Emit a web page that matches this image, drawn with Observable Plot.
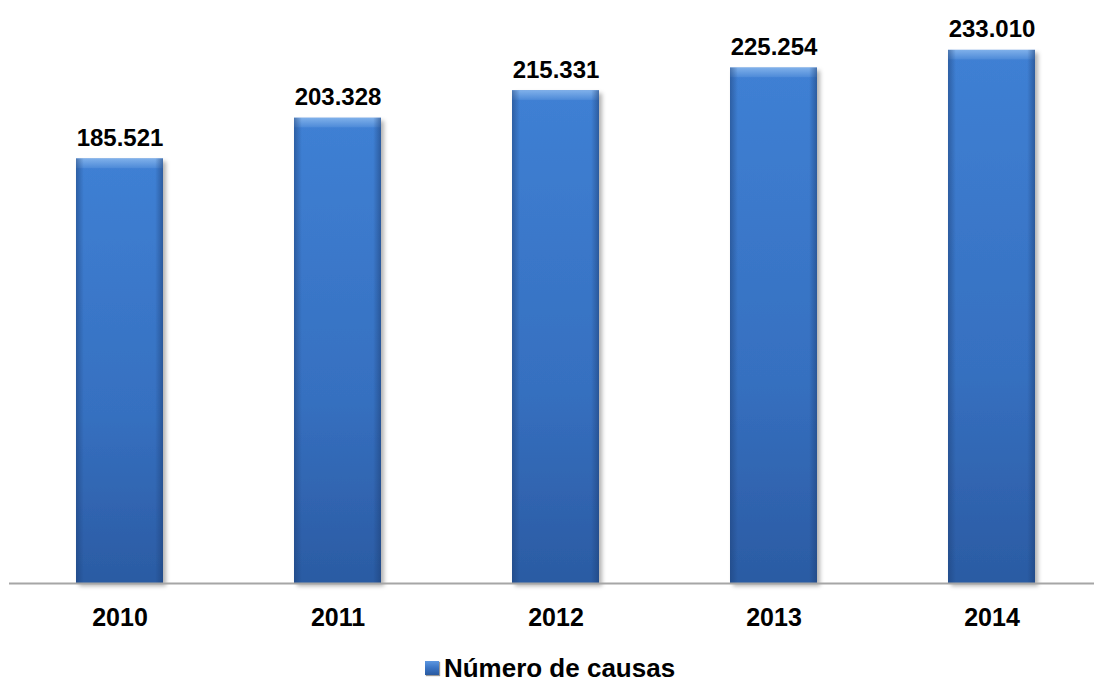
<!DOCTYPE html>
<html>
<head>
<meta charset="utf-8">
<script src="https://cdn.jsdelivr.net/npm/d3@7"></script>
<script src="https://cdn.jsdelivr.net/npm/@observablehq/plot@0.6"></script>
<style>
  html, body { margin: 0; padding: 0; background: #fff; }
  #chart { width: 1094px; }
  .legend { display: flex; align-items: center; justify-content: center; height: 56px;
    font-family: "Liberation Sans", Arial, sans-serif; font-weight: bold; font-size: 26px; color: #000; margin-left: 6px; }
  .legend .sw { width: 14px; height: 14px; margin-right: 5px;
    background: linear-gradient(180deg, #5d97e0 0%, #3a74c4 50%, #2a5aa0 100%); box-shadow: 1px 1px 1px #999; }
</style>
</head>
<body>
<div id="chart"></div>
<script>
const years = ["2010", "2011", "2012", "2013", "2014"];
const causas = [185521, 203328, 215331, 225254, 233010];
const seriesName = "Número de causas";

const data = years.map((y, i) => ({year: y, value: causas[i]}));
const fmt = d3.formatLocale({decimal: ",", thousands: ".", grouping: [3], currency: ["", ""]}).format(",d");

const plot = Plot.plot({
  width: 1094,
  height: 640,
  marginLeft: 9,
  marginRight: 0,
  marginTop: 11,
  marginBottom: 57,
  style: {fontFamily: "'Liberation Sans', Arial, sans-serif", background: "#fff"},
  x: {domain: years, range: [9, 1101.5], paddingInner: 0.6, paddingOuter: 0.3, label: null},
  y: {domain: [0, 250000], axis: null},
  marks: [
    Plot.barY(data, {x: "year", y: "value", fill: "url(#barGrad)"}),
    Plot.barY(data, {x: "year", y1: d => d.value, y2: d => d.value - 4200, fill: "url(#bevelGrad)"}),
    Plot.barY(data, {x: "year", y: "value", fill: "url(#edgeGrad)"}),
    Plot.ruleY([0], {stroke: "#a6a6a6", strokeWidth: 2}),
    Plot.text(data, {x: "year", y: "value", text: d => fmt(d.value), dy: -13, lineAnchor: "bottom",
      fontSize: 24, fontWeight: "bold", fill: "#000"}),
    Plot.axisX({tickSize: 0, tickPadding: 25, fontSize: 25, fontWeight: "bold", fill: "#000", label: null})
  ]
});

// gradients and shadow
const svg = d3.select(plot);
const defs = svg.insert("defs", ":first-child");
const g1 = defs.append("linearGradient").attr("id", "barGrad").attr("x1", 0).attr("x2", 0).attr("y1", 0).attr("y2", 1);
g1.append("stop").attr("offset", "0%").attr("stop-color", "#3f80d4");
g1.append("stop").attr("offset", "60%").attr("stop-color", "#3670c0");
g1.append("stop").attr("offset", "100%").attr("stop-color", "#2b5ba3");
const g2 = defs.append("linearGradient").attr("id", "bevelGrad").attr("x1", 0).attr("x2", 0).attr("y1", 0).attr("y2", 1);
g2.append("stop").attr("offset", "0%").attr("stop-color", "#7fb0ea");
g2.append("stop").attr("offset", "100%").attr("stop-color", "#4d8ad8");
const g3 = defs.append("linearGradient").attr("id", "edgeGrad").attr("x1", 0).attr("x2", 1).attr("y1", 0).attr("y2", 0);
g3.append("stop").attr("offset", "0%").attr("stop-color", "#1d3f75").attr("stop-opacity", 0.5);
g3.append("stop").attr("offset", "9%").attr("stop-color", "#1d3f75").attr("stop-opacity", 0.0);
g3.append("stop").attr("offset", "91%").attr("stop-color", "#1d3f75").attr("stop-opacity", 0.0);
g3.append("stop").attr("offset", "100%").attr("stop-color", "#1d3f75").attr("stop-opacity", 0.55);
const f = defs.append("filter").attr("id", "shadow").attr("x", "-10%").attr("y", "-10%").attr("width", "130%").attr("height", "130%");
f.append("feDropShadow").attr("dx", 3).attr("dy", 3).attr("stdDeviation", 2).attr("flood-color", "#000").attr("flood-opacity", 0.3);
svg.select("g[aria-label='bar']").attr("filter", "url(#shadow)");

document.getElementById("chart").appendChild(plot);
const legend = document.createElement("div");
legend.className = "legend";
legend.innerHTML = `<span class="sw"></span><span>${seriesName}</span>`;
document.getElementById("chart").appendChild(legend);
</script>
</body>
</html>
